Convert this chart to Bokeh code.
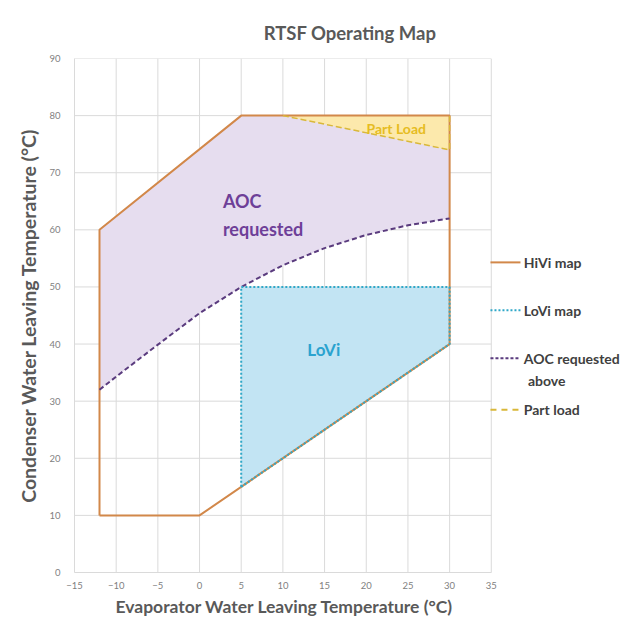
from bokeh.plotting import figure
from bokeh.models import FixedTicker, Title
from bokeh.core.properties import value
from bokeh.embed import file_html
from bokeh.resources import INLINE

FONT = "Lato"

# Axis ticks
x_ticks = [-15, -10, -5, 0, 5, 10, 15, 20, 25, 30, 35]
y_ticks = [0, 10, 20, 30, 40, 50, 60, 70, 80, 90]

# HiVi operating envelope (evaporator vs condenser leaving temperature)
hivi_x = [-12, -12, 5, 30, 30, 0, -12]
hivi_y = [10, 60, 80, 80, 40, 10, 10]

# LoVi operating envelope
lovi_x = [5, 5, 30, 30, 5]
lovi_y = [15, 50, 50, 40, 15]

# Lower boundary of the "AOC requested" zone
aoc_x = [-12, -10, -5, 0, 5, 10, 15, 20, 25, 30]
aoc_y = [32, 34.3, 39.9, 45.4, 50, 53.8, 56.8, 59.1, 60.8, 62]

# Part load zone
part_x = [10, 30, 30]
part_y = [80, 74, 80]

# Legend entries
legend_labels = ["HiVi map", "LoVi map", "AOC requested", "Part load"]

HIVI_COLOR = "#D2884A"
LOVI_COLOR = "#2FA8C8"
AOC_COLOR = "#5A3B7E"
PART_COLOR = "#D9B83A"
GRID_COLOR = "#DADADA"
TEXT_GREY = "#595959"

p = figure(width=625, height=619, x_range=(-15, 51.1), y_range=(0, 90),
           output_backend="svg", toolbar_location=None,
           min_border_left=74, min_border_right=0,
           min_border_top=58, min_border_bottom=47)
p.outline_line_color = None
p.background_fill_color = "white"
p.border_fill_color = "white"

# Title
p.title.text = "RTSF Operating Map"
p.title.align = "center"
p.title.text_font = FONT
p.title.text_font_size = "18.5px"
p.title.text_font_style = "bold"
p.title.text_color = TEXT_GREY
p.title.standoff = 30

# Grid limited to the chart area (the legend sits to its right)
p.xgrid.visible = False
p.ygrid.visible = False
p.segment(x0=x_ticks, y0=[y_ticks[0]] * len(x_ticks), x1=x_ticks, y1=[y_ticks[-1]] * len(x_ticks),
          line_color=GRID_COLOR, line_width=1)
p.segment(x0=[x_ticks[0]] * len(y_ticks), y0=y_ticks, x1=[x_ticks[-1]] * len(y_ticks), y1=y_ticks,
          line_color=GRID_COLOR, line_width=1)

# Axes
for ax in (p.xaxis[0], p.yaxis[0]):
    ax.axis_line_color = GRID_COLOR
    ax.major_tick_line_color = None
    ax.minor_tick_line_color = None
    ax.major_label_text_font = FONT
    ax.major_label_text_font_size = "9.5px"
    ax.major_label_text_color = "#7F7F7F"
    ax.axis_label_text_font = FONT
    ax.axis_label_text_font_style = "bold"
    ax.axis_label_text_color = TEXT_GREY
p.xaxis.ticker = FixedTicker(ticks=x_ticks)
p.yaxis.ticker = FixedTicker(ticks=y_ticks)
p.xaxis.bounds = (x_ticks[0], x_ticks[-1])
p.yaxis.axis_label = "Condenser Water Leaving Temperature (°C)"
p.yaxis.axis_label_text_font_size = "19.5px"
p.xaxis.major_label_standoff = 3
p.yaxis.major_label_standoff = 8
p.yaxis.axis_label_standoff = 6

# X axis caption, aligned under the chart area rather than the full frame
p.add_layout(Title(text="Evaporator  Water Leaving Temperature  (°C)", align="left", offset=41,
                   text_font=FONT, text_font_size="17.5px", text_font_style="bold",
                   text_color=TEXT_GREY, standoff=4), "below")

# Filled zones
aoc_fill_x = hivi_x[1:4] + aoc_x[::-1]
aoc_fill_y = hivi_y[1:4] + aoc_y[::-1]
p.patch(aoc_fill_x, aoc_fill_y, fill_color="#E6DDEF", line_color=None)
p.patch(lovi_x, lovi_y, fill_color="#C2E4F3", line_color=None)
p.patch(part_x, part_y, fill_color="#FCE9AC", line_color=None)

# Boundaries
p.line(hivi_x, hivi_y, line_color=HIVI_COLOR, line_width=2)
p.line(aoc_x, aoc_y, line_color=AOC_COLOR, line_width=2, line_dash="5 3")
p.line(lovi_x, lovi_y, line_color=LOVI_COLOR, line_width=2, line_dash="2 2")
p.line(part_x, part_y, line_color=PART_COLOR, line_width=1.5, line_dash="6 3")

# Zone labels
p.text(x=[2.8, 2.8], y=[65, 60.2], text=["AOC", "requested"], text_color="#6E3F98",
       text_font=value(FONT), text_font_style="bold", text_font_size="18px",
       text_baseline="middle", text_align="left")
p.text(x=[14.9], y=[39.0], text=["LoVi"], text_color="#2AA3CF",
       text_font=value(FONT), text_font_style="bold", text_font_size="17px",
       text_baseline="middle", text_align="center")
p.text(x=[23.6], y=[77.7], text=["Part Load"], text_color="#E6BC22",
       text_font=value(FONT), text_font_style="bold", text_font_size="14px",
       text_baseline="middle", text_align="center")

# Legend, drawn beside the chart area
leg_x0, leg_x1, leg_tx = 34.9, 38.5, 38.9
leg_rows = [54.3, 45.9, 37.5, 28.5]
styles = [
    dict(line_color=HIVI_COLOR, line_width=2),
    dict(line_color=LOVI_COLOR, line_width=2, line_dash="2 2"),
    dict(line_color=AOC_COLOR, line_width=2, line_dash="3 2"),
    dict(line_color=PART_COLOR, line_width=2, line_dash="6 5"),
]
for yy, st in zip(leg_rows, styles):
    p.line([leg_x0, leg_x1], [yy, yy], **st)
p.text(x=[leg_tx] * 4, y=leg_rows, text=legend_labels, text_color="#404040",
       text_font=value(FONT), text_font_style="bold", text_font_size="14px",
       text_baseline="middle", text_align="left")
p.text(x=[leg_tx + 0.5], y=[33.6], text=["above"], text_color="#404040",
       text_font=value(FONT), text_font_style="bold", text_font_size="14px",
       text_baseline="middle", text_align="left")

open("out.html", "w").write(file_html(p, INLINE))
